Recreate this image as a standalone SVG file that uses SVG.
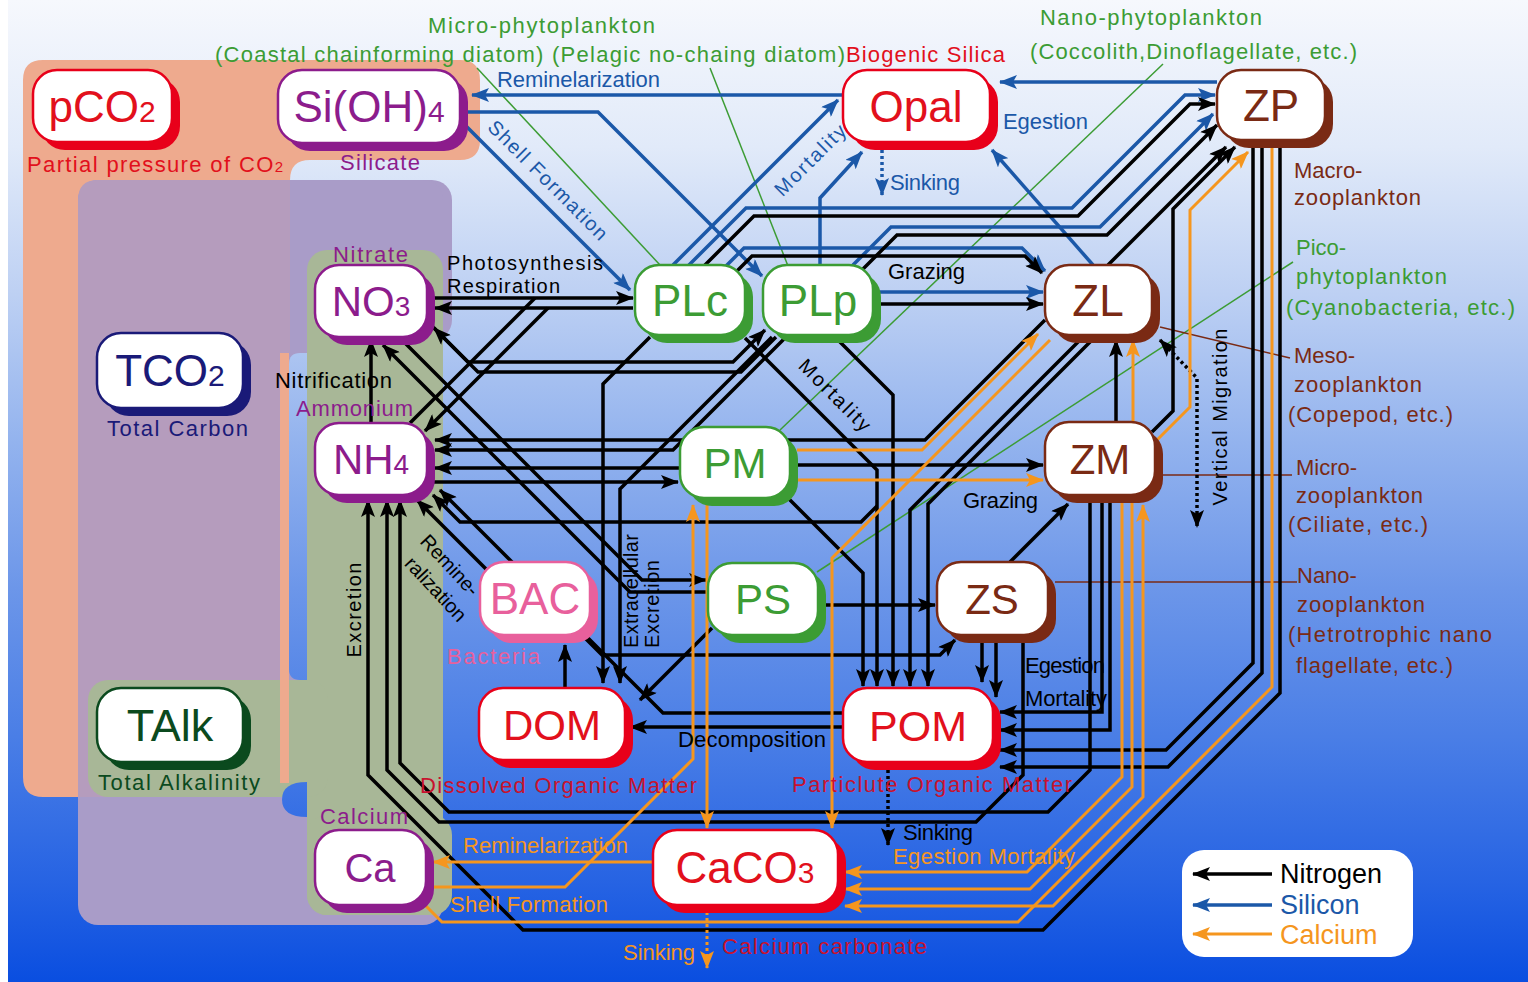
<svg xmlns="http://www.w3.org/2000/svg" width="1528" height="982" viewBox="0 0 1528 982">
<defs>
<linearGradient id="bg" gradientUnits="userSpaceOnUse" x1="0" y1="0" x2="0" y2="982">
<stop offset="0" stop-color="#f6f8fd"/>
<stop offset="0.15" stop-color="#e1eaf9"/>
<stop offset="0.3" stop-color="#bdd0f3"/>
<stop offset="0.45" stop-color="#93b3ee"/>
<stop offset="0.6" stop-color="#6c96e9"/>
<stop offset="0.75" stop-color="#4a7ee6"/>
<stop offset="0.9" stop-color="#2663e3"/>
<stop offset="1" stop-color="#0a4ee0"/>
</linearGradient>
<marker id="an" viewBox="0 0 18 14" refX="17" refY="7" markerWidth="18" markerHeight="14" markerUnits="userSpaceOnUse" orient="auto"><path d="M0,0 L18,7 L0,14 L4,7 Z" fill="#000"/></marker>
<marker id="an2" viewBox="0 0 18 14" refX="17" refY="7" markerWidth="18" markerHeight="14" markerUnits="userSpaceOnUse" orient="auto-start-reverse"><path d="M0,0 L18,7 L0,14 L4,7 Z" fill="#000"/></marker>
<marker id="as" viewBox="0 0 18 14" refX="17" refY="7" markerWidth="18" markerHeight="14" markerUnits="userSpaceOnUse" orient="auto"><path d="M0,0 L18,7 L0,14 L4,7 Z" fill="#1b58a8"/></marker>
<marker id="ac" viewBox="0 0 18 14" refX="17" refY="7" markerWidth="18" markerHeight="14" markerUnits="userSpaceOnUse" orient="auto"><path d="M0,0 L18,7 L0,14 L4,7 Z" fill="#f5961e"/></marker>
</defs>
<style>
.t{font-family:"Liberation Sans",Arial,sans-serif}
.l{font-size:22px}
.nd{font-size:44px;text-anchor:middle}
.sub{font-size:30px}
.bx{fill:#fff;stroke-width:2.5}
.n{fill:none;stroke:#000;stroke-width:3.5;marker-end:url(#an)}
.s{fill:none;stroke:#1b58a8;stroke-width:3.5;marker-end:url(#as)}
.c{fill:none;stroke:#f5961e;stroke-width:3;marker-end:url(#ac)}
.na{marker-end:none}
.dot{stroke-dasharray:3 3}
.gl{fill:none;stroke:#3c9c34;stroke-width:1.5}
.bl{fill:none;stroke:#7a2a14;stroke-width:1.5}
.cg{fill:#3c9c34}.cr{fill:#e2101c}.cdr{fill:#c8122e}.cb{fill:#1b58a8}.cp{fill:#8c1c8c}.cbr{fill:#7a2a14}.ck{fill:#000}.co{fill:#f5961e}.cn{fill:#1a1a78}.cdg{fill:#0b4a1e}.cpk{fill:#e8609c}
.sm{font-size:20px}
</style>

<!-- background -->
<rect x="0" y="0" width="1528" height="982" fill="url(#bg)"/>
<rect x="0" y="0" width="8" height="982" fill="#ffffff"/>

<!-- group regions -->
<g id="regions">
<path d="M43,60 H460 Q480,60 480,80 V140 Q480,160 460,160 H310 Q290,160 290,180 V777 Q290,797 270,797 H43 Q23,797 23,777 V80 Q23,60 43,60 Z" fill="#eeaa8e"/>
<rect x="78" y="180" width="374" height="160" rx="20" fill="#a99cc8"/>
<rect x="78" y="180" width="365" height="745" rx="20" fill="#a99cc8"/>
<path d="M98,180 H290 V353 H280 V797 H78 V200 Q78,180 98,180 Z" fill="#b59cbd"/>
<path d="M300,353 H307 V680 H300 Q289,680 289,669 V364 Q289,353 300,353 Z" fill="url(#bg)"/>
<rect x="307" y="250" width="136" height="665" rx="20" fill="#a8b797"/>
<rect x="307" y="815" width="145" height="100" rx="20" fill="#a8b797"/>
<rect x="88" y="680" width="240" height="117" rx="20" fill="#a8b797"/>
<rect x="280" y="353" width="9" height="430" fill="#eeaa8e"/>
<path d="M307,782 V817 Q282,817 282,799.5 Q282,782 307,782 Z" fill="url(#bg)"/>
</g>

<!-- connectors -->
<g id="connectors">
<!-- leader lines -->
<path class="gl" d="M477,68 L660,265"/>
<path class="gl" d="M710,68 L788,266"/>
<path class="gl" d="M1163,64 L780,430"/>
<path class="gl" d="M1293,262 L817,572"/>
<path class="bl" d="M1160,327 L1290,358"/>
<path class="bl" d="M1160,475 H1292"/>
<path class="bl" d="M1055,582 H1297"/>

<!-- silicon -->
<path class="s" d="M843,95 H472"/>
<path class="s" d="M468,112 H598 L762,276"/>
<path class="s" d="M464,124 L630,290"/>
<path class="s" d="M673,265 L838,100"/>
<path class="s" d="M820,265 V198 L862,152"/>
<path class="s" d="M1093,265 L992,150"/>
<path class="s" d="M1217,82 H1000"/>
<path class="s" d="M688,266 L746,208 H1072 L1185,95 H1215"/>
<path class="s" d="M852,266 L891,227 H1100 L1213,114"/>
<path class="s" d="M722,270 L744,248 H1022 L1045,271"/>
<path class="s" d="M880,292 H1043"/>
<path class="s dot" d="M882,150 V195"/>

<!-- nitrogen -->
<path class="n" d="M433,298 H633"/>
<path class="n" d="M633,308 H435"/>
<path class="n" d="M703,267 L754,216 H1078 L1190,104 H1215"/>
<path class="n" d="M863,269 L897,235 H1107 L1217,125"/>
<path class="n" d="M732,276 L752,256 H1025 L1042,273"/>
<path class="n" d="M880,304 H1043"/>
<path class="n" d="M1108,265 L1226,147"/>
<path class="n" d="M1152,432 L1173,411 V209 L1235,147"/>
<path class="n" d="M1116,422 V340"/>
<path class="n" d="M797,465 H1043"/>
<path class="n" d="M826,605 H935"/>
<path class="n" d="M1010,562 L1068,504"/>
<path class="n" d="M433,482 H678"/>
<path class="n na" d="M410,423 L535,298"/>
<path class="n" d="M548,308 L425,431"/>
<path class="n" d="M430,324 L468,362 H733 L765,330"/>
<path class="n" d="M776,337 L741,372 H478 L434,328"/>
<path class="n" d="M371,423 V340"/>
<path class="n" d="M1045,320 L925,440 H435"/>
<path class="n" d="M786,337 L673,450 H435"/>
<path class="n" d="M680,468 H435"/>
<path class="n" d="M877,506 L861,522 H460 L433,495"/>
<path class="n" d="M405,343 L642,580 H706"/>
<path class="n" d="M708,592 H630 L383,345"/>
<path class="n" d="M843,713 H663 L440,490"/>
<path class="n" d="M492,575 L417,500"/>
<path class="n" d="M565,688 V645"/>
<path class="n" d="M585,638 L602,655 H940 L955,640"/>
<path class="n" d="M843,727 H630"/>
<path class="n" d="M650,337 L603,384 V683"/>
<path class="n" d="M772,337 L620,489 V683"/>
<path class="n" d="M712,628 L640,700"/>
<path class="n" d="M745,338 L877,470 V686"/>
<path class="n" d="M838,340 L893,395 V686"/>
<path class="n" d="M788,498 L863,573 V686"/>
<path class="n" d="M1095,337 L928,504 V686"/>
<path class="n" d="M1083,337 L910,510 V686"/>
<path class="n" d="M982,637 V682"/>
<path class="n" d="M996,637 V697"/>
<path class="n" d="M1102,497 V712 H1000"/>
<path class="n" d="M1110,497 V730 H1000"/>
<path class="n" d="M1253,148 V663 L1166,750 H1000"/>
<path class="n" d="M1262,148 V673 L1168,767 H1000"/>
<path class="n" d="M1280,148 V693 L1043,930 H523 L368,775 V500"/>
<path class="n" d="M1090,497 V770 L1048,812 H449 L400,763 V500"/>
<path class="n" d="M1023,637 V775 L976,822 H439 L387,770 V500"/>
<path class="n dot" d="M888,770 V845"/>
<path class="n dot" d="M1160,340 L1197,378 V527" style="marker-start:url(#an2);marker-end:url(#an2)"/>

<!-- calcium -->
<path class="c" d="M797,450 H922 L1038,334"/>
<path class="c" d="M797,480 H1043"/>
<path class="c" d="M1050,340 L832,558 V828"/>
<path class="c" d="M707,505 V828"/>
<path class="c" d="M430,887 H565 L693,759 V505"/>
<path class="c" d="M653,862 H433"/>
<path class="c" d="M1122,502 V777 L1027,872 H845"/>
<path class="c" d="M1132,502 V787 L1030,889 H845"/>
<path class="c" d="M1272,148 V687 L1053,906 H845"/>
<path class="c" d="M425,905 L442,922 H1018 L1143,797 V505"/>
<path class="c" d="M1155,442 L1190,407 V210 L1248,152"/>
<path class="c" d="M1133,422 V340"/>
<path class="c dot" d="M707,912 V968"/>
</g>

<!-- nodes -->
<g id="node-pCO2"><rect x="41" y="78" width="139" height="72" rx="24" fill="#e8001a"/><rect class="bx" x="33" y="70" width="139" height="72" rx="24" stroke="#e8001a"/><text class="t nd cr" x="102" y="122">pCO<tspan class="sub">2</tspan></text></g>
<g id="node-SiOH4"><rect x="286" y="78" width="182" height="73" rx="24" fill="#8c1c8c"/><rect class="bx" x="278" y="70" width="182" height="73" rx="24" stroke="#8c1c8c"/><text class="t nd cp" x="369" y="122">Si(OH)<tspan class="sub">4</tspan></text></g>
<g id="node-Opal"><rect x="851" y="78" width="147" height="72" rx="24" fill="#e8001a"/><rect class="bx" x="843" y="70" width="147" height="72" rx="24" stroke="#e8001a"/><text class="t nd cr" x="916" y="122">Opal</text></g>
<g id="node-ZP"><rect x="1225" y="78" width="108" height="70" rx="24" fill="#7a2a14"/><rect class="bx" x="1217" y="70" width="108" height="70" rx="24" stroke="#7a2a14"/><text class="t nd cbr" x="1271" y="121">ZP</text></g>
<g id="node-TCO2"><rect x="105" y="341" width="146" height="75" rx="24" fill="#1a1a78"/><rect class="bx" x="97" y="333" width="146" height="75" rx="24" stroke="#1a1a78"/><text class="t nd cn" x="170" y="386">TCO<tspan class="sub">2</tspan></text></g>
<g id="node-NO3"><rect x="323" y="273" width="112" height="72" rx="24" fill="#8c1c8c"/><rect class="bx" x="315" y="265" width="112" height="72" rx="24" stroke="#8c1c8c"/><text class="t nd cp" x="371" y="316" style="font-size:42px">NO<tspan style="font-size:28px">3</tspan></text></g>
<g id="node-NH4"><rect x="323" y="431" width="112" height="72" rx="24" fill="#8c1c8c"/><rect class="bx" x="315" y="423" width="112" height="72" rx="24" stroke="#8c1c8c"/><text class="t nd cp" x="371" y="474" style="font-size:42px">NH<tspan style="font-size:28px">4</tspan></text></g>
<g id="node-PLc"><rect x="643" y="273" width="110" height="70" rx="24" fill="#3c9c34"/><rect class="bx" x="635" y="265" width="110" height="70" rx="24" stroke="#3c9c34"/><text class="t nd cg" x="690" y="316">PLc</text></g>
<g id="node-PLp"><rect x="771" y="273" width="110" height="70" rx="24" fill="#3c9c34"/><rect class="bx" x="763" y="265" width="110" height="70" rx="24" stroke="#3c9c34"/><text class="t nd cg" x="818" y="316">PLp</text></g>
<g id="node-ZL"><rect x="1053" y="273" width="107" height="70" rx="24" fill="#7a2a14"/><rect class="bx" x="1045" y="265" width="107" height="70" rx="24" stroke="#7a2a14"/><text class="t nd cbr" x="1098" y="316">ZL</text></g>
<g id="node-PM"><rect x="688" y="435" width="110" height="71" rx="24" fill="#3c9c34"/><rect class="bx" x="680" y="427" width="110" height="71" rx="24" stroke="#3c9c34"/><text class="t nd cg" x="735" y="478" style="font-size:42px">PM</text></g>
<g id="node-ZM"><rect x="1053" y="430" width="110" height="73" rx="24" fill="#7a2a14"/><rect class="bx" x="1045" y="422" width="110" height="73" rx="24" stroke="#7a2a14"/><text class="t nd cbr" x="1100" y="474" style="font-size:42px">ZM</text></g>
<g id="node-BAC"><rect x="488" y="570" width="110" height="73" rx="24" fill="#e8609c"/><rect class="bx" x="480" y="562" width="110" height="73" rx="24" stroke="#e8609c"/><text class="t nd cpk" x="535" y="614">BAC</text></g>
<g id="node-PS"><rect x="716" y="571" width="110" height="72" rx="24" fill="#3c9c34"/><rect class="bx" x="708" y="563" width="110" height="72" rx="24" stroke="#3c9c34"/><text class="t nd cg" x="763" y="614" style="font-size:42px">PS</text></g>
<g id="node-ZS"><rect x="945" y="570" width="111" height="73" rx="24" fill="#7a2a14"/><rect class="bx" x="937" y="562" width="111" height="73" rx="24" stroke="#7a2a14"/><text class="t nd cbr" x="992" y="614" style="font-size:42px">ZS</text></g>
<g id="node-TAlk"><rect x="105" y="696" width="146" height="74" rx="24" fill="#0b4a1e"/><rect class="bx" x="97" y="688" width="146" height="74" rx="24" stroke="#0b4a1e"/><text class="t nd cdg" x="170" y="741" style="font-size:45px">TAlk</text></g>
<g id="node-DOM"><rect x="487" y="696" width="146" height="72" rx="24" fill="#e8001a"/><rect class="bx" x="479" y="688" width="146" height="72" rx="24" stroke="#e8001a"/><text class="t nd cr" x="552" y="740" style="font-size:42px">DOM</text></g>
<g id="node-POM"><rect x="851" y="696" width="150" height="74" rx="24" fill="#e8001a"/><rect class="bx" x="843" y="688" width="150" height="74" rx="24" stroke="#e8001a"/><text class="t nd cr" x="918" y="741" style="font-size:43px">POM</text></g>
<g id="node-CaCO3"><rect x="661" y="838" width="185" height="75" rx="24" fill="#e8001a"/><rect class="bx" x="653" y="830" width="185" height="75" rx="24" stroke="#e8001a"/><text class="t nd cr" x="745" y="883">CaCO<tspan class="sub">3</tspan></text></g>
<g id="node-Ca"><rect x="323" y="838" width="111" height="75" rx="24" fill="#8c1c8c"/><rect class="bx" x="315" y="830" width="111" height="75" rx="24" stroke="#8c1c8c"/><text class="t nd cp" x="370" y="882" style="font-size:40px">Ca</text></g>

<!-- labels -->
<g id="labels" class="t l">
<text class="cg" x="428" y="33" textLength="227">Micro-phytoplankton</text>
<text class="cg" x="215" y="62" textLength="630">(Coastal chainforming diatom) (Pelagic no-chaing diatom)</text>
<text class="cr" x="846" y="62" textLength="159">Biogenic Silica</text>
<text class="cg" x="1040" y="25" textLength="222">Nano-phytoplankton</text>
<text class="cg" x="1030" y="59" textLength="327">(Coccolith,Dinoflagellate, etc.)</text>
<text class="cb" x="497" y="87" textLength="163">Reminelarization</text>
<text class="cr" x="27" y="172" textLength="256">Partial pressure of CO<tspan style="font-size:15px">2</tspan></text>
<text class="cp" x="340" y="170" textLength="80">Silicate</text>
<text class="cb" x="1003" y="129" textLength="85">Egestion</text>
<text class="cb" x="890" y="190" textLength="70">Sinking</text>
<text class="cb sm" transform="translate(548,180) rotate(45)" y="7" text-anchor="middle" textLength="160">Shell Formation</text>
<text class="cb sm" transform="translate(810,160) rotate(-45)" y="7" text-anchor="middle" textLength="92">Mortality</text>
<text class="cp" x="333" y="262" textLength="75">Nitrate</text>
<text class="ck sm" x="447" y="270" textLength="156">Photosynthesis</text>
<text class="ck sm" x="447" y="293" textLength="113">Respiration</text>
<text class="ck" x="888" y="279" textLength="77">Grazing</text>
<text class="cbr" x="1294" y="178">Macro-</text>
<text class="cbr" x="1294" y="205" textLength="127">zooplankton</text>
<text class="cg" x="1296" y="255">Pico-</text>
<text class="cg" x="1296" y="284" textLength="151">phytoplankton</text>
<text class="cg" x="1286" y="315" textLength="229">(Cyanobacteria, etc.)</text>
<text class="cbr" x="1294" y="363">Meso-</text>
<text class="cbr" x="1294" y="392" textLength="128">zooplankton</text>
<text class="cbr" x="1288" y="422" textLength="165">(Copepod, etc.)</text>
<text class="cbr" x="1296" y="475">Micro-</text>
<text class="cbr" x="1296" y="503" textLength="127">zooplankton</text>
<text class="cbr" x="1288" y="532" textLength="140">(Ciliate, etc.)</text>
<text class="cbr" x="1297" y="583">Nano-</text>
<text class="cbr" x="1297" y="612" textLength="128">zooplankton</text>
<text class="cbr" x="1288" y="642" textLength="204">(Hetrotrophic nano</text>
<text class="cbr" x="1296" y="673" textLength="157">flagellate, etc.)</text>
<text class="cn" x="107" y="436" textLength="141">Total Carbon</text>
<text class="ck" x="275" y="388" textLength="117">Nitrification</text>
<text class="cp" x="296" y="416" textLength="117">Ammonium</text>
<text class="ck sm" transform="translate(835,395) rotate(45)" y="7" text-anchor="middle" textLength="93">Mortality</text>
<text class="ck sm" transform="translate(1220,417) rotate(-90)" y="7" text-anchor="middle" textLength="177">Vertical Migration</text>
<text class="ck" x="963" y="508" textLength="75">Grazing</text>
<text class="ck sm" transform="translate(450,565) rotate(47)" y="7" text-anchor="middle">Remine-</text>
<text class="ck sm" transform="translate(436,589) rotate(47)" y="7" text-anchor="middle">ralization</text>
<text class="ck sm" transform="translate(354,610) rotate(-90)" y="7" text-anchor="middle" textLength="95">Excretion</text>
<text class="cpk" x="447" y="664" textLength="93">Bacteria</text>
<text class="ck sm" transform="translate(631,648) rotate(-90)" y="7" textLength="114">Extracellular</text>
<text class="ck sm" transform="translate(652,648) rotate(-90)" y="7" textLength="88">Excretion</text>
<text class="ck" x="1025" y="673" textLength="80">Egestion</text>
<text class="ck" x="1025" y="706" textLength="82">Mortality</text>
<text class="ck" x="678" y="747" textLength="148">Decomposition</text>
<text class="cdg" x="98" y="790" textLength="162">Total Alkalinity</text>
<text class="cdr" x="420" y="793" textLength="277">Dissolved Organic Matter</text>
<text class="cdr" x="792" y="792" textLength="280">Particlute Organic Matter</text>
<text class="cp" x="320" y="824" textLength="88">Calcium</text>
<text class="co" x="463" y="853" textLength="165">Reminelarization</text>
<text class="ck" x="903" y="840" textLength="70">Sinking</text>
<text class="co" x="893" y="864" textLength="182">Egestion Mortality</text>
<text class="co" x="450" y="912" textLength="158">Shell Formation</text>
<text class="co" x="623" y="960" textLength="72">Sinking</text>
<text class="cdr" x="722" y="954" textLength="205">Calcium carbonate</text>
</g>

<!-- legend -->
<g id="legend">
<rect x="1182" y="850" width="231" height="107" rx="22" fill="#ffffff"/>
<path class="n" d="M1272,874 H1193"/>
<path class="s" d="M1272,905 H1193"/>
<path class="c" d="M1272,934 H1193"/>
<text class="t ck" x="1280" y="883" style="font-size:27px">Nitrogen</text>
<text class="t cb" x="1280" y="914" style="font-size:27px">Silicon</text>
<text class="t co" x="1280" y="944" style="font-size:27px">Calcium</text>
</g>
</svg>
